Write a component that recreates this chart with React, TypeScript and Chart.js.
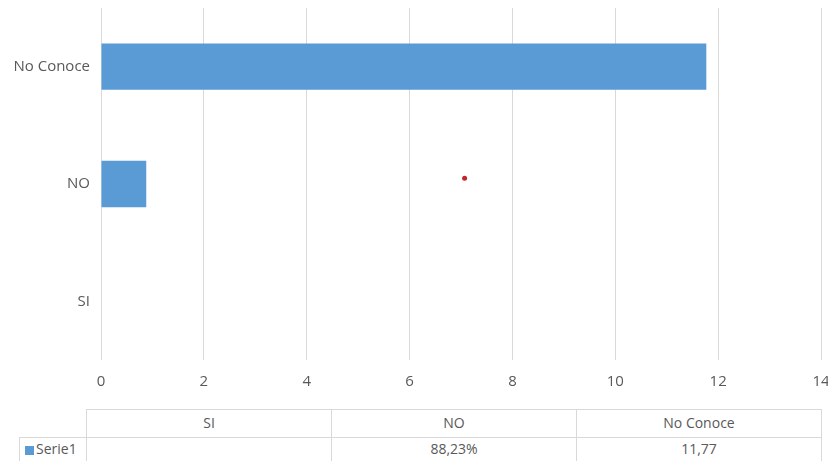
import React, { useEffect, useRef } from "react";
import { Chart, registerables } from "chart.js";

Chart.register(...registerables);

const categories = ["SI", "NO", "No Conoce"];
const serieValues = [0, 0.88, 11.77];
const tableTexts = ["", "88,23%", "11,77"];
const seriesName = "Serie1";
const xTicks = [0, 2, 4, 6, 8, 10, 12, 14];
const strayPoint = [{ x: 7.07, y: 1.55 }];

const FONT = "'Open Sans', 'Noto Sans', sans-serif";
const TEXT = "#595959";
const GRID = "#d9d9d9";
const BLUE = "#5b9bd5";
const FS = 15;

export default function App() {
  const ref = useRef<HTMLCanvasElement | null>(null);

  useEffect(() => {
    if (!ref.current) return;
    const chart = new Chart(ref.current, {
      type: "bar",
      data: {
        labels: categories,
        datasets: [
          {
            type: "bar",
            label: seriesName,
            data: serieValues,
            indexAxis: "y",
            backgroundColor: BLUE,
            borderWidth: 0,
            barPercentage: 0.395,
            categoryPercentage: 1,
          } as any,
          {
            type: "scatter",
            label: "punto",
            data: strayPoint as any,
            yAxisID: "yDot",
            pointRadius: 2.5,
            pointBackgroundColor: "#c0272d",
            pointBorderWidth: 0,
            showLine: false,
          } as any,
        ],
      },
      options: {
        animation: false,
        responsive: false,
        maintainAspectRatio: false,
        layout: { padding: { top: 8, left: 0, right: 0, bottom: 0 } },
        plugins: { legend: { display: false }, tooltip: { enabled: false } },
        scales: {
          x: {
            type: "linear",
            offset: false,
            min: xTicks[0],
            max: xTicks[xTicks.length - 1],
            afterBuildTicks: (s: any) => {
              s.ticks = xTicks.map((v) => ({ value: v }));
            },
            afterFit: (s: any) => {
              s.height = 40;
              s.paddingLeft = 0;
              s.paddingRight = 7;
            },
            grid: { color: GRID, lineWidth: 1, drawTicks: false, offset: false },
            border: { display: false },
            ticks: {
              color: TEXT,
              font: { family: FONT, size: FS },
              padding: 13,
            },
          },
          y: {
            type: "category",
            reverse: true,
            offset: true,
            afterFit: (s: any) => {
              s.width = 101;
              s.paddingTop = 0;
              s.paddingBottom = 0;
            },
            grid: { display: false, drawTicks: false },
            border: { display: false },
            ticks: {
              color: TEXT,
              font: { family: FONT, size: FS },
              padding: 11,
            },
          },
          yDot: {
            type: "linear",
            display: false,
            min: 0,
            max: 3,
          },
        },
      },
    });
    return () => chart.destroy();
  }, []);

  const tableLeft = 86;
  const tableRight = 821;
  const colW = (tableRight - tableLeft) / categories.length;
  const headTop = 409;
  const rowTop = 437;
  const cellText: React.CSSProperties = {
    position: "absolute",
    fontFamily: FONT,
    fontSize: FS - 1,
    color: TEXT,
    textAlign: "center",
    boxSizing: "border-box",
  };

  return (
    <div
      style={{
        position: "fixed",
        left: 0,
        top: 0,
        width: 828,
        height: 461,
        background: "#fff",
        overflow: "hidden",
      }}
    >
      <canvas ref={ref} width={828} height={400} style={{ display: "block", width: 828, height: 400 }} />
      {categories.map((c, i) => (
        <div
          key={"h" + i}
          style={{
            ...cellText,
            left: tableLeft + i * colW,
            top: headTop,
            width: colW + 1,
            height: rowTop - headTop + 1,
            border: `1px solid ${GRID}`,
            lineHeight: `${rowTop - headTop - 2}px`,
          }}
        >
          {c}
        </div>
      ))}
      {tableTexts.map((t, i) => (
        <div
          key={"d" + i}
          style={{
            ...cellText,
            left: tableLeft + i * colW,
            top: rowTop,
            width: colW + 1,
            height: 30,
            border: `1px solid ${GRID}`,
            lineHeight: "22px",
          }}
        >
          {t}
        </div>
      ))}
      <div
        style={{
          ...cellText,
          left: 19,
          top: rowTop,
          width: tableLeft - 19 + 1,
          height: 30,
          border: `1px solid ${GRID}`,
          lineHeight: "22px",
          textAlign: "left",
          paddingLeft: 5,
        }}
      >
        <span
          style={{
            display: "inline-block",
            width: 9,
            height: 9,
            background: BLUE,
            marginRight: 2,
            verticalAlign: "-1px",
          }}
        />
        {seriesName}
      </div>
    </div>
  );
}
